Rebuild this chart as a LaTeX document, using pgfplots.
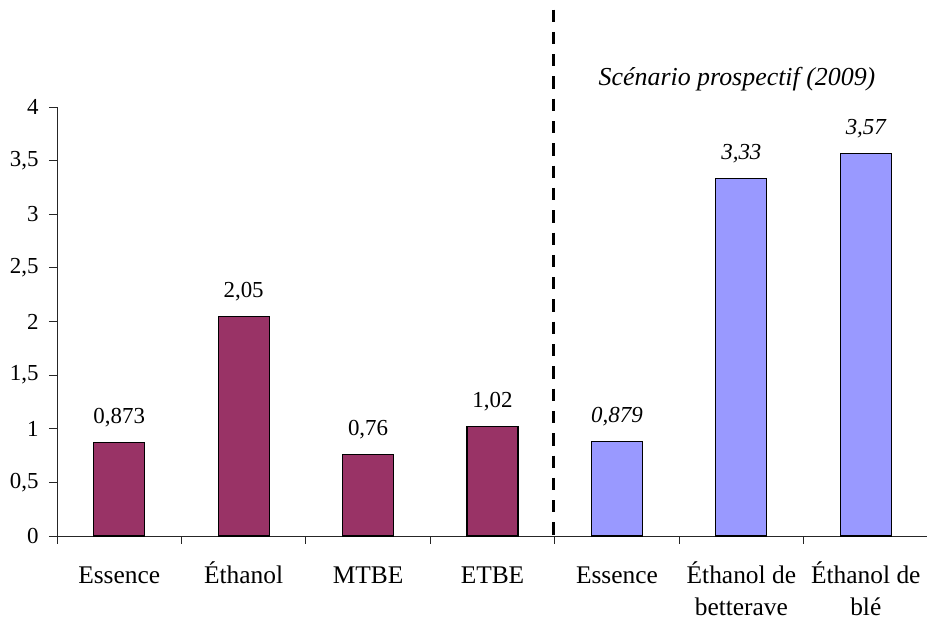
\documentclass[border=0pt]{standalone}
\usepackage{pgfplots}
\pgfplotsset{compat=1.18}
\usepackage{fontspec}
\setmainfont{Liberation Serif}
\definecolor{plum}{HTML}{993366}
\definecolor{lavender}{HTML}{9999FF}
% fixed first-line height so every category name shares one baseline
\newcommand{\lab}{\rule{0pt}{26bp}}

\begin{document}
\begin{tikzpicture}[x=1bp,y=1bp]
\useasboundingbox (-57,-83) rectangle (870,536);
\begin{axis}[
  at={(0,0)}, anchor=south west,
  scale only axis, width=871bp, height=429bp,
  xmin=0.5, xmax=7.5, ymin=0, ymax=4,
  axis x line*=bottom, axis y line*=left,
  axis line style={-, black!85, line width=0.8bp},
  clip=false,
  /pgf/number format/use comma,
  /pgf/number format/assume math mode=true,
  ytick={0,0.5,1,1.5,2,2.5,3,3.5,4},
  xtick={1,2,3,4,5,6,7},
  xticklabels={\lab Essence, \lab Éthanol, \lab MTBE, \lab ETBE, \lab Essence,
    {\lab Éthanol de\\betterave}, {\lab Éthanol de\\blé}},
  minor xtick={0.5,1.5,2.5,3.5,4.5,5.5,6.5},
  tick align=outside,
  major tick length=8bp, minor tick length=8bp,
  major x tick style={draw=none},
  every tick/.style={black!85, line width=0.8bp},
  y tick label style={font=\fontsize{23}{28}\selectfont, xshift=-7bp},
  x tick label style={font=\fontsize{25.5}{32}\selectfont, align=center,
    anchor=north, yshift=-10bp},
  ybar, bar width=51bp,
  nodes near coords={\pgfmathprintnumber[use comma, precision=3]{\pgfplotspointmeta}},
  every node near coord/.append style={anchor=base, yshift=19bp,
    font=\fontsize{23}{28}\selectfont, black},
]
% Situation actuelle
\addplot[bar shift=0pt, fill=plum, draw=black, line width=1.2bp]
  coordinates {(1,0.873) (2,2.05) (3,0.76) (4,1.02)};
% Scénario prospectif
\addplot[bar shift=0pt, fill=lavender, draw=black, line width=1.2bp,
  every node near coord/.append style={font=\fontsize{23}{28}\selectfont\itshape}]
  coordinates {(5,0.879) (6,3.33) (7,3.57)};
% séparation des deux scénarios
\draw[black, line width=3bp, dash pattern=on 12.3bp off 10bp]
  (axis cs:4.49,4.909) -- (axis cs:4.49,0);
\node[anchor=base, font=\fontsize{26}{30}\selectfont\itshape]
  at (axis cs:5.965,4.205) {Scénario prospectif (2009)};
\end{axis}
\end{tikzpicture}
\end{document}
